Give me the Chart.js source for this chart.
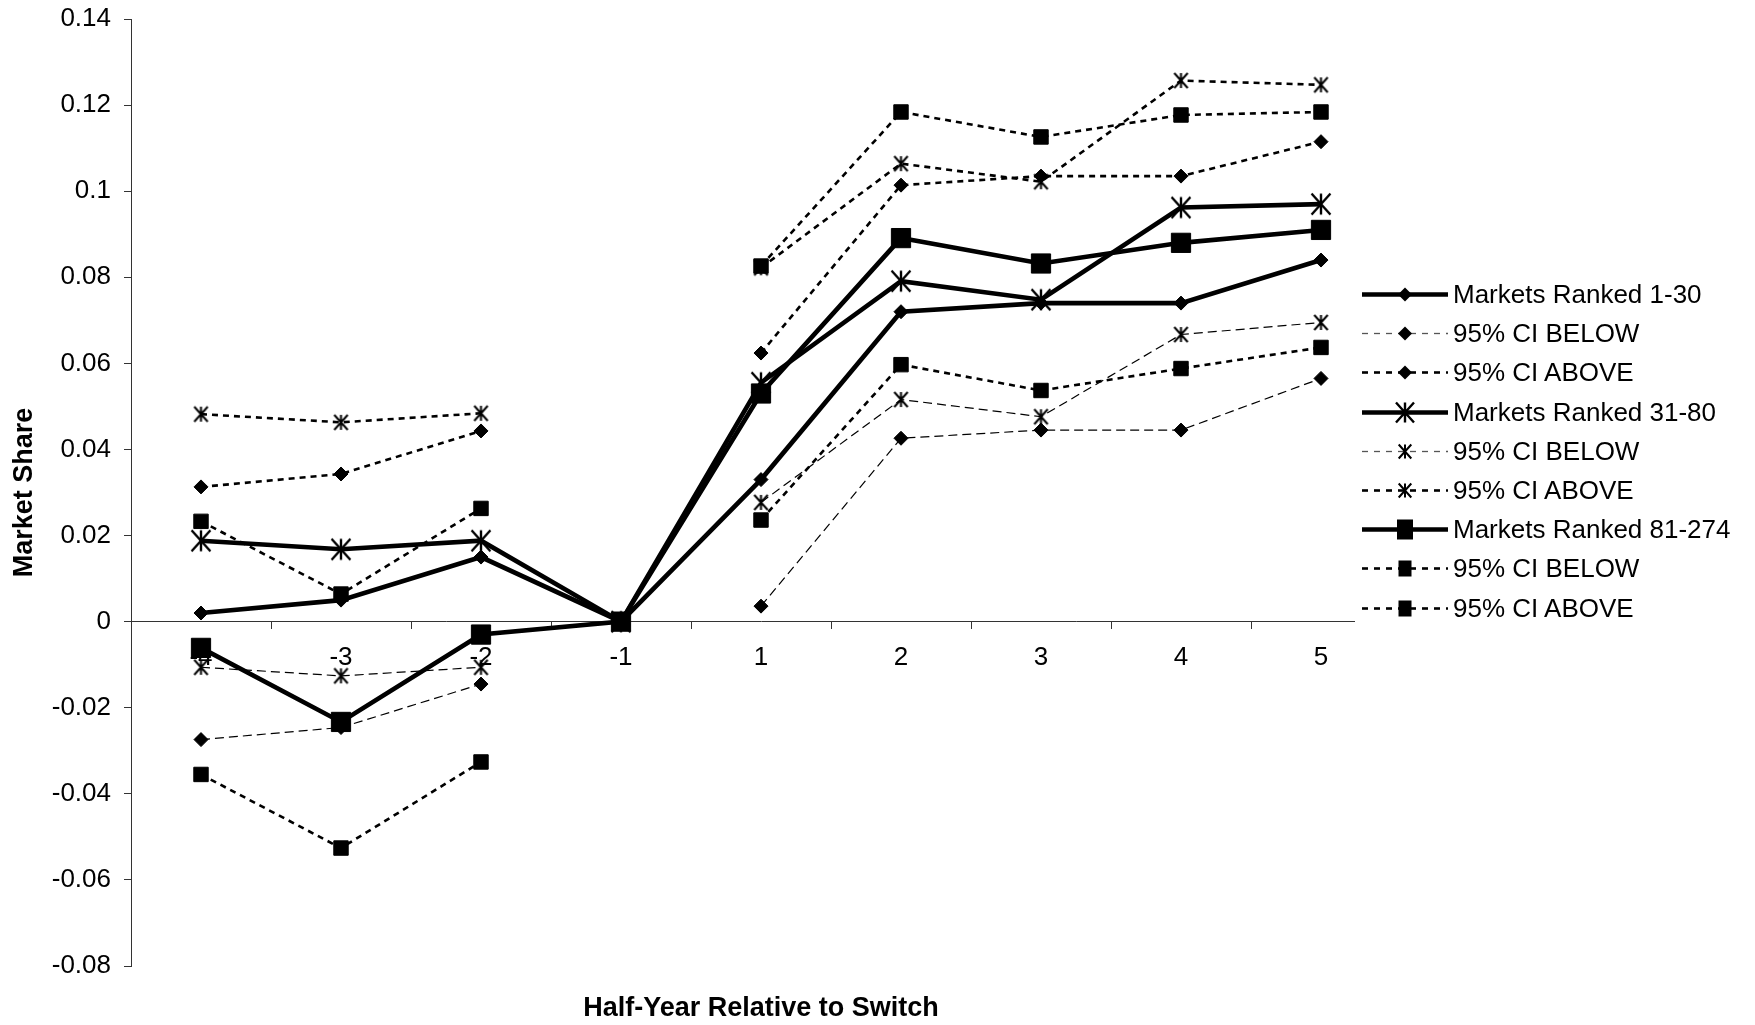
<!DOCTYPE html>
<html>
<head>
<meta charset="utf-8">
<title>Market Share by Half-Year Relative to Switch</title>
<script src="https://cdn.jsdelivr.net/npm/chart.js@4.4.1/dist/chart.umd.min.js"></script>
<style>
  body { margin: 0; background: #fff; }
  #wrap { position: relative; width: 1755px; height: 1025px; }
  #legend {
    position: absolute; left: 1355px; top: 275px;
    background: #fff; padding: 0 10px 4px 0;
    font: 26px "Liberation Sans", Arial, sans-serif; color: #000;
  }
  .row { display: flex; align-items: center; height: 39.2px; white-space: nowrap; }
  .row canvas { display: block; margin-right: 2px; }
</style>
</head>
<body>
<div id="wrap">
  <canvas id="shareChart" width="1755" height="1025"></canvas>
  <div id="legend"></div>
</div>
<script>
// Half-years relative to the switch
const halfYears = ["-4", "-3", "-2", "-1", "1", "2", "3", "4", "5"];

// Y axis range
const yMin = -0.08;
const yMax = 0.14;
const yStep = 0.02;

// Markets ranked 1-30
const rank1to30 = [0.002, 0.005, 0.015, 0, 0.033, 0.072, 0.074, 0.074, 0.084];
const rank1to30Below = [-0.0274, -0.0246, -0.0145, null, 0.0036, 0.0426, 0.0445, 0.0445, 0.0565];
const rank1to30Above = [0.0313, 0.0343, 0.0443, null, 0.0624, 0.1014, 0.1035, 0.1035, 0.1115];

// Markets ranked 31-80
const rank31to80 = [0.0188, 0.0168, 0.0188, 0, 0.0555, 0.0791, 0.0748, 0.0962, 0.097];
const rank31to80Below = [-0.0106, -0.0126, -0.0106, null, 0.0277, 0.0516, 0.0476, 0.0667, 0.0695];
const rank31to80Above = [0.0482, 0.0463, 0.0484, null, 0.0822, 0.1064, 0.1022, 0.1257, 0.1247];

// Markets ranked 81-274
const rank81to274 = [-0.0061, -0.0233, -0.003, 0, 0.053, 0.0891, 0.0832, 0.088, 0.091];
const rank81to274Below = [-0.0355, -0.0526, -0.0326, null, 0.0236, 0.0597, 0.0537, 0.0588, 0.0637];
const rank81to274Above = [0.0233, 0.0064, 0.0263, null, 0.0826, 0.1184, 0.1126, 0.1177, 0.1184];

const seriesNames = [
  "Markets Ranked 1-30", "95% CI BELOW", "95% CI ABOVE",
  "Markets Ranked 31-80", "95% CI BELOW", "95% CI ABOVE",
  "Markets Ranked 81-274", "95% CI BELOW", "95% CI ABOVE"
];
const seriesData = [
  rank1to30, rank1to30Below, rank1to30Above,
  rank31to80, rank31to80Below, rank31to80Above,
  rank81to274, rank81to274Below, rank81to274Above
];
const lineKinds = ["main", "thin", "dash", "main", "thin", "dash", "main", "dash", "dash"];
const markerKinds = ["diamond", "diamond", "diamond", "star", "star", "star", "square", "square", "square"];

// Line looks
const lineLook = {
  main: { width: 4.6, dash: [], color: "#000" },
  thin: { width: 1.2, dash: [9, 5], color: "#000" },
  dash: { width: 2.6, dash: [6, 5], color: "#000" }
};

// Asterisk marker (X with a vertical bar)
function drawStar(g, x, y, r, lw) {
  g.save();
  g.setLineDash([]);
  g.strokeStyle = "#000";
  g.lineWidth = lw;
  g.beginPath();
  g.moveTo(x - r * 0.9, y - r); g.lineTo(x + r * 0.9, y + r);
  g.moveTo(x + r * 0.9, y - r); g.lineTo(x - r * 0.9, y + r);
  g.moveTo(x, y - r); g.lineTo(x, y + r);
  g.stroke();
  g.restore();
}

function starImage(r, lw) {
  const size = Math.ceil(2 * r + lw + 2);
  const cv = document.createElement("canvas");
  cv.width = size;
  cv.height = size;
  drawStar(cv.getContext("2d"), size / 2, size / 2, r, lw);
  return cv;
}

const bigStar = starImage(10.5, 2.4);
const smallStar = starImage(7.5, 2);

function pointLook(marker, kind) {
  const main = kind === "main";
  if (marker === "diamond") return { pointStyle: "rectRot", pointRadius: 7 };
  if (marker === "square") return { pointStyle: "rect", pointRadius: main ? 13.6 : 10.2 };
  return { pointStyle: main ? bigStar : smallStar, pointRadius: main ? 11 : 8 };
}

const datasets = seriesData.map((data, i) => {
  const look = lineLook[lineKinds[i]];
  const pt = pointLook(markerKinds[i], lineKinds[i]);
  return {
    label: seriesNames[i],
    data: data,
    borderColor: look.color,
    borderWidth: look.width,
    borderDash: look.dash,
    backgroundColor: "#000",
    pointBackgroundColor: "#000",
    pointBorderColor: "#000",
    pointBorderWidth: 1,
    pointStyle: pt.pointStyle,
    pointRadius: pt.pointRadius,
    pointHoverRadius: pt.pointRadius,
    tension: 0,
    spanGaps: false,
    fill: false,
    order: seriesData.length - 1 - i
  };
});

Chart.defaults.font.family = '"Liberation Sans", Arial, sans-serif';
Chart.defaults.color = "#000";
const axisColor = "#333";

const ctx = document.getElementById("shareChart").getContext("2d");
const shareChart = new Chart(ctx, {
  type: "line",
  data: { labels: halfYears, datasets: datasets },
  options: {
    responsive: false,
    animation: false,
    devicePixelRatio: 1,
    layout: { padding: { top: 19, right: 364, left: 0, bottom: 0 } },
    plugins: { legend: { display: false }, tooltip: { enabled: false } },
    scales: {
      x: {
        type: "category",
        position: { y: 0 },
        offset: true,
        grid: { offset: true, drawOnChartArea: false, tickLength: 7, color: axisColor },
        border: { color: axisColor, width: 1 },
        ticks: { font: { size: 26 }, padding: 14, maxRotation: 0, autoSkip: false }
      },
      x2: {
        type: "category",
        position: "bottom",
        labels: halfYears,
        grid: { display: false },
        border: { display: false },
        ticks: { display: false },
        title: {
          display: true,
          text: "Half-Year Relative to Switch",
          font: { size: 27, weight: "bold" },
          padding: { top: 27, bottom: 0 }
        },
        afterFit: (s) => { s.height = 59; }
      },
      y: {
        min: yMin,
        max: yMax,
        ticks: {
          stepSize: yStep,
          maxTicksLimit: 20,
          padding: 13,
          font: { size: 26 },
          callback: (v) => String(Math.round(v * 100) / 100)
        },
        grid: { drawOnChartArea: false, tickLength: 7, color: axisColor },
        border: { color: axisColor, width: 1 },
        title: {
          display: true,
          text: "Market Share",
          font: { size: 27, weight: "bold" },
          padding: { top: 8, bottom: 12 }
        },
        afterFit: (s) => {
          s.width = 131;
          s.paddingTop = 0;
          s.paddingBottom = 0;
        }
      }
    }
  }
});

// Legend, drawn next to the plot like the original
function legendSample(i) {
  const cv = document.createElement("canvas");
  cv.width = 96;
  cv.height = 39;
  const g = cv.getContext("2d");
  const kind = lineKinds[i];
  const look = lineLook[kind];
  g.strokeStyle = kind === "thin" ? "#555" : "#000";
  g.lineWidth = kind === "thin" ? 1.3 : look.width;
  g.setLineDash(kind === "main" ? [] : [6, 6]);
  g.beginPath();
  g.moveTo(7, 19.5);
  g.lineTo(93, 19.5);
  g.stroke();
  g.setLineDash([]);
  g.fillStyle = "#000";
  const mx = 50, my = 19.5;
  if (markerKinds[i] === "diamond") {
    g.beginPath();
    g.moveTo(mx, my - 7); g.lineTo(mx + 7, my); g.lineTo(mx, my + 7); g.lineTo(mx - 7, my);
    g.closePath();
    g.fill();
  } else if (markerKinds[i] === "square") {
    const w = kind === "main" ? 16 : 13, h = kind === "main" ? 20 : 16;
    g.fillRect(mx - w / 2, my - h / 2, w, h);
  } else {
    drawStar(g, mx, my, kind === "main" ? 10 : 7, kind === "main" ? 2.4 : 2);
  }
  return cv;
}

const legendBox = document.getElementById("legend");
seriesNames.forEach((name, i) => {
  const row = document.createElement("div");
  row.className = "row";
  row.appendChild(legendSample(i));
  const span = document.createElement("span");
  span.textContent = name;
  row.appendChild(span);
  legendBox.appendChild(row);
});
</script>
</body>
</html>
